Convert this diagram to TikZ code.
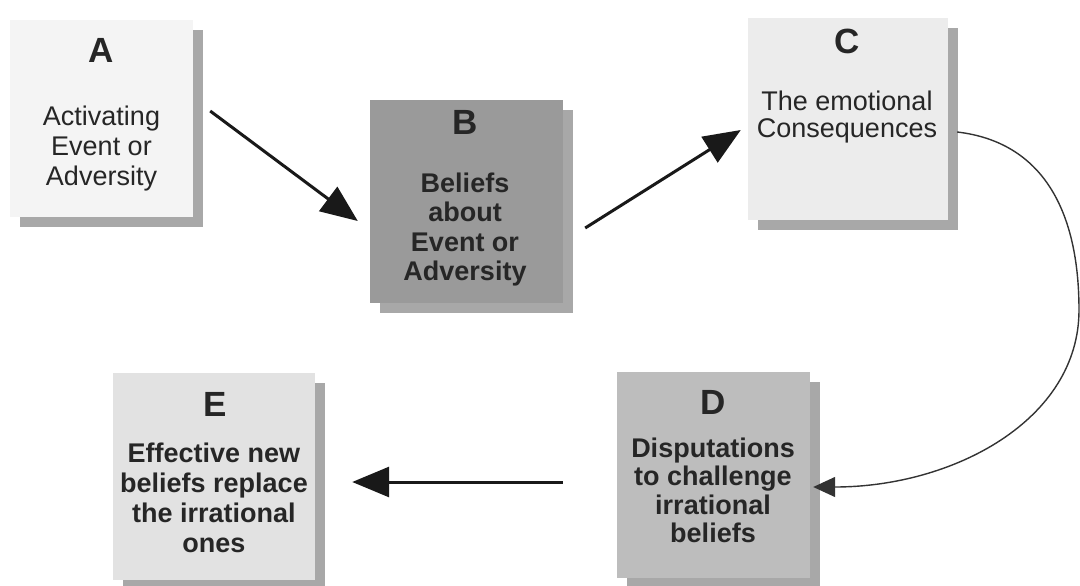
\documentclass[tikz,border=0pt]{standalone}
\usepackage{fontspec}
\setmainfont{Liberation Sans}
\usetikzlibrary{arrows.meta,shadows,calc}
\definecolor{fillA}{HTML}{F4F4F4}
\definecolor{fillB}{HTML}{9A9A9A}
\definecolor{fillC}{HTML}{ECECEC}
\definecolor{fillD}{HTML}{BDBDBD}
\definecolor{fillE}{HTML}{E2E2E2}
\definecolor{shadowgray}{HTML}{A8A8A8}
\definecolor{txt}{HTML}{262626}
\tikzset{
  box/.style={rectangle, inner sep=0pt, draw=none,
    drop shadow={shadow xshift=10pt, shadow yshift=-10pt, fill=shadowgray, opacity=1}},
  letter/.style={anchor=base, text=txt, font=\fontsize{35pt}{38pt}\selectfont\bfseries},
  bodyn/.style={anchor=base, align=center, text=txt, inner sep=0pt},
  arr/.style={line width=3pt, draw=black!90, -{Triangle[length=37pt,width=30pt]}},
  curvearr/.style={line width=1.4pt, draw=black!80, -{Triangle[length=22pt,width=20pt]}}
}
\begin{document}
\begin{tikzpicture}[x=1pt,y=-1pt]
\useasboundingbox (0,0) rectangle (1080,586);
% boxes
\node[box, fill=fillA, minimum width=183pt, minimum height=197pt] (A) at (101.5,118.5) {};
\node[box, fill=fillB, minimum width=193pt, minimum height=203pt] (B) at (466.5,201.5) {};
\node[box, fill=fillC, minimum width=200pt, minimum height=202pt] (C) at (848,119) {};
\node[box, fill=fillD, minimum width=193pt, minimum height=206pt] (D) at (713.5,475) {};
\node[box, fill=fillE, minimum width=202pt, minimum height=207pt] (E) at (214,476.5) {};
% titles
\node[letter] (At) at (101.5,63) {A};
\node[letter] (Bt) at (465,135) {B};
\node[letter] (Ct) at (847,54) {C};
\node[letter] (Dt) at (713,414) {D};
\node[letter] (Et) at (215,416) {E};
% body texts (anchor base = baseline of the last line)
\node[bodyn, font=\fontsize{27pt}{30pt}\selectfont] (Ab) at (101.5,185) {Activating\\Event or\\Adversity};
\node[bodyn, font=\fontsize{27pt}{29.5pt}\selectfont\bfseries] (Bb) at (465,280.5) {Beliefs\\about\\Event or\\Adversity};
\node[bodyn, font=\fontsize{27pt}{28pt}\selectfont] (Cb) at (847,138) {The emotional\\Consequences};
\node[bodyn, font=\fontsize{27pt}{28.5pt}\selectfont\bfseries] (Db) at (713,542.5) {Disputations\\to challenge\\irrational\\beliefs};
\node[bodyn, font=\fontsize{27pt}{30pt}\selectfont\bfseries] (Eb) at (214,552) {Effective new\\beliefs replace\\the irrational\\ones};
% connectors
\draw[arr] ([shift={(17,-7.5)}]A.east) -- ([shift={(-12,19.5)}]B.west);
\draw[arr] ([shift={(22,26.5)}]B.east) -- ([shift={(-7,11)}]C.west);
\draw[curvearr] ([shift={(9,13)}]C.east) .. controls +(85,10) and +(0,-100) .. (1079,310)
  .. controls +(0,110) and +(140,0) .. ([shift={(3,12)}]D.east);
\draw[arr] ([shift={(-54,7)}]D.west) -- ([shift={(37,5.5)}]E.east);
\end{tikzpicture}
\end{document}
